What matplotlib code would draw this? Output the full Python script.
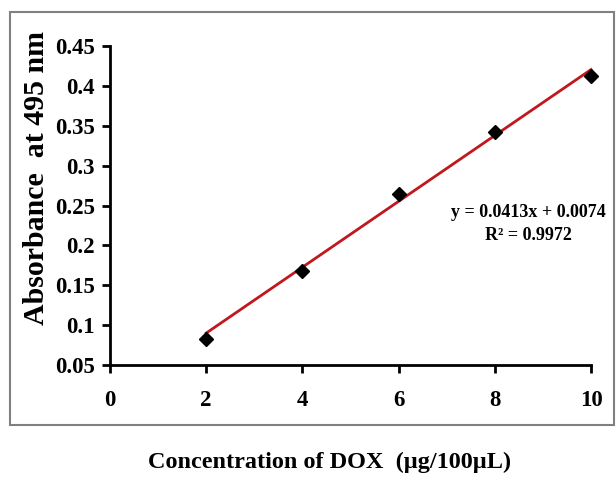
import matplotlib
matplotlib.use("Agg")
import matplotlib.pyplot as plt
from matplotlib.patches import Rectangle
import numpy as np

conc = [2, 4, 6, 8, 10]
absorb = [0.082, 0.168, 0.264, 0.342, 0.412]
slope, intercept = 0.0413, 0.0074
xticks = [0, 2, 4, 6, 8, 10]
yticks = [0.05, 0.1, 0.15, 0.2, 0.25, 0.3, 0.35, 0.4, 0.45]
ytick_labels = ["0.05", "0.1", "0.15", "0.2", "0.25", "0.3", "0.35", "0.4", "0.45"]

plt.rcParams['font.family'] = ['Liberation Serif', 'DejaVu Serif']
plt.rcParams['font.weight'] = 'bold'

W, H = 616, 478
fig = plt.figure(figsize=(W/100, H/100), dpi=100)
fig.patches.append(Rectangle((10/W, 1-425/H), (614-10)/W, (425-12)/H,
                             transform=fig.transFigure, fill=False,
                             edgecolor='#808080', linewidth=1.5))

ax = fig.add_axes([110/W, 1-365/H, (591-110)/W, (365-46)/H])
ax.set_xlim(0, 10)
ax.set_ylim(0.05, 0.45)
for s in ['top', 'right']:
    ax.spines[s].set_visible(False)
for s in ['left', 'bottom']:
    ax.spines[s].set_linewidth(2)
ax.set_xticks(xticks)
ax.set_xticklabels([str(t) for t in xticks])
ax.set_yticks(yticks)
ax.set_yticklabels(ytick_labels)
ax.tick_params(axis='both', direction='out', length=6, width=2, labelsize=16.5)
ax.tick_params(axis='x', pad=12)
ax.tick_params(axis='y', pad=5)
for lab in ax.get_xticklabels() + ax.get_yticklabels():
    lab.set_fontweight('bold')

xs = np.array([conc[0], conc[-1]])
ax.plot(xs, slope*xs + intercept, color='#c0181c', linewidth=2, clip_on=False)
ax.plot(conc, absorb, linestyle='none', marker='D', color='black', markersize=7, clip_on=False)

ax.text(8.69, 0.2406, "y = 0.0413x + 0.0074", ha='center', va='center', fontsize=13, fontweight='bold')
ax.text(8.69, 0.2118, "R² = 0.9972", ha='center', va='center', fontsize=13, fontweight='bold')

fig.text(37/W, 1-178/H, "Absorbance  at 495 nm", rotation=90, ha='center', va='center',
         fontsize=21.5, fontweight='bold')
fig.text(330/W, 1-462/H, "Concentration of DOX  (µg/100µL)", ha='center', va='center',
         fontsize=17.5, fontweight='bold')

fig.savefig("out.png", dpi=100)
